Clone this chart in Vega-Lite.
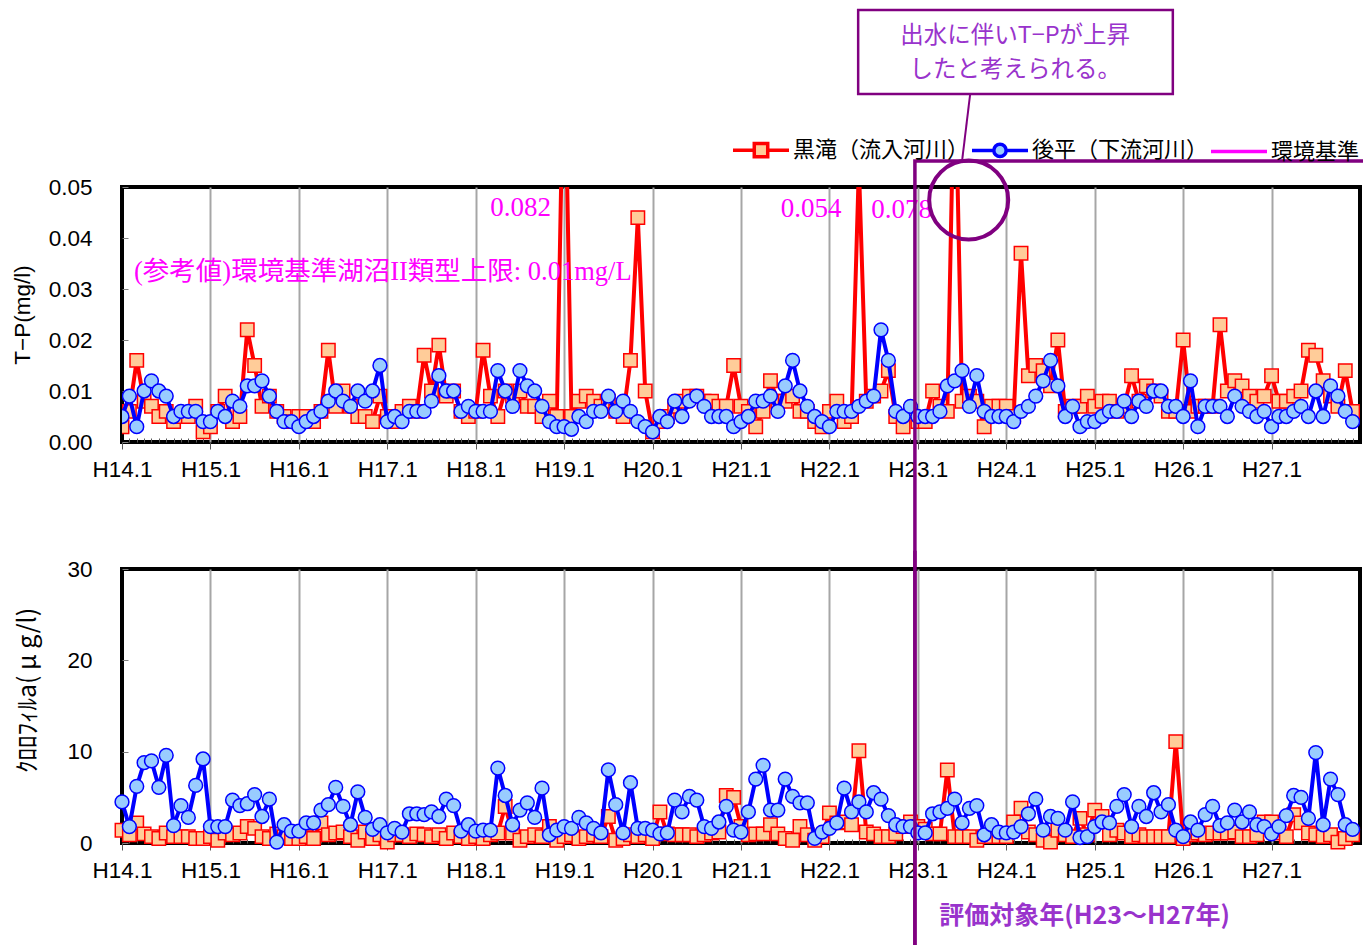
{
  "$schema": "https://vega.github.io/schema/vega-lite/v6.json",
  "background": "white",
  "padding": {"left": 9, "top": 6, "right": 0, "bottom": 0},
  "bounds": "flush",
  "spacing": 127,
  "config": {
    "view": {"stroke": "black", "strokeWidth": 4},
    "axis": {"labelFont": "Liberation Sans", "labelFontSize": 22.5, "labelColor": "black", "titleFont": "Liberation Sans", "titleFontSize": 22.5, "titleFontWeight": "normal", "titleColor": "black", "domain": false}
  },
  "datasets": {
    "obs": [
      {"t":0,"kTP":0.003,"gTP":0.005,"kChl":1.4,"gChl":4.5},
      {"t":1,"kTP":0.006,"gTP":0.009,"kChl":0.9,"gChl":1.8},
      {"t":2,"kTP":0.016,"gTP":0.003,"kChl":2.2,"gChl":6.2},
      {"t":3,"kTP":0.008,"gTP":0.010,"kChl":1.0,"gChl":8.8},
      {"t":4,"kTP":0.007,"gTP":0.012,"kChl":0.7,"gChl":9.0},
      {"t":5,"kTP":0.005,"gTP":0.010,"kChl":0.5,"gChl":6.1},
      {"t":6,"kTP":0.006,"gTP":0.009,"kChl":1.1,"gChl":9.6},
      {"t":7,"kTP":0.004,"gTP":0.005,"kChl":0.7,"gChl":1.9},
      {"t":8,"kTP":0.005,"gTP":0.006,"kChl":0.7,"gChl":4.1},
      {"t":9,"kTP":0.005,"gTP":0.006,"kChl":0.7,"gChl":2.8},
      {"t":10,"kTP":0.007,"gTP":0.006,"kChl":0.5,"gChl":6.3},
      {"t":11,"kTP":0.002,"gTP":0.004,"kChl":0.5,"gChl":9.2},
      {"t":12,"kTP":0.003,"gTP":0.004,"kChl":0.7,"gChl":1.8},
      {"t":13,"kTP":0.006,"gTP":0.006,"kChl":0.3,"gChl":1.8},
      {"t":14,"kTP":0.009,"gTP":0.005,"kChl":1.1,"gChl":1.8},
      {"t":15,"kTP":0.004,"gTP":0.008,"kChl":0.9,"gChl":4.7},
      {"t":16,"kTP":0.005,"gTP":0.007,"kChl":1.1,"gChl":4.1},
      {"t":17,"kTP":0.022,"gTP":0.011,"kChl":1.8,"gChl":4.3},
      {"t":18,"kTP":0.015,"gTP":0.011,"kChl":1.6,"gChl":5.3},
      {"t":19,"kTP":0.007,"gTP":0.012,"kChl":0.7,"gChl":2.9},
      {"t":20,"kTP":0.009,"gTP":0.009,"kChl":0.5,"gChl":4.8},
      {"t":21,"kTP":0.006,"gTP":0.006,"kChl":1.0,"gChl":0.1},
      {"t":22,"kTP":0.005,"gTP":0.004,"kChl":0.7,"gChl":2.0},
      {"t":23,"kTP":0.004,"gTP":0.004,"kChl":0.5,"gChl":1.3},
      {"t":24,"kTP":0.005,"gTP":0.003,"kChl":0.5,"gChl":1.3},
      {"t":25,"kTP":0.005,"gTP":0.004,"kChl":0.7,"gChl":2.2},
      {"t":26,"kTP":0.004,"gTP":0.005,"kChl":0.5,"gChl":2.2},
      {"t":27,"kTP":0.006,"gTP":0.006,"kChl":2.2,"gChl":3.6},
      {"t":28,"kTP":0.018,"gTP":0.008,"kChl":0.9,"gChl":4.2},
      {"t":29,"kTP":0.007,"gTP":0.010,"kChl":1.1,"gChl":6.1},
      {"t":30,"kTP":0.010,"gTP":0.008,"kChl":1.2,"gChl":4.0},
      {"t":31,"kTP":0.007,"gTP":0.007,"kChl":0.7,"gChl":2.0},
      {"t":32,"kTP":0.005,"gTP":0.010,"kChl":0.3,"gChl":5.6},
      {"t":33,"kTP":0.005,"gTP":0.008,"kChl":1.2,"gChl":2.8},
      {"t":34,"kTP":0.004,"gTP":0.010,"kChl":0.5,"gChl":1.5},
      {"t":35,"kTP":0.009,"gTP":0.015,"kChl":0.9,"gChl":2.0},
      {"t":36,"kTP":0.005,"gTP":0.004,"kChl":0.1,"gChl":1.1},
      {"t":37,"kTP":0.004,"gTP":0.005,"kChl":0.9,"gChl":1.6},
      {"t":38,"kTP":0.006,"gTP":0.004,"kChl":0.9,"gChl":1.2},
      {"t":39,"kTP":0.007,"gTP":0.006,"kChl":0.7,"gChl":3.2},
      {"t":40,"kTP":0.006,"gTP":0.006,"kChl":1.0,"gChl":3.2},
      {"t":41,"kTP":0.017,"gTP":0.006,"kChl":0.9,"gChl":3.1},
      {"t":42,"kTP":0.010,"gTP":0.008,"kChl":0.7,"gChl":3.4},
      {"t":43,"kTP":0.019,"gTP":0.013,"kChl":0.9,"gChl":2.9},
      {"t":44,"kTP":0.009,"gTP":0.010,"kChl":0.5,"gChl":4.8},
      {"t":45,"kTP":0.010,"gTP":0.010,"kChl":1.1,"gChl":4.1},
      {"t":46,"kTP":0.006,"gTP":0.006,"kChl":0.7,"gChl":1.3},
      {"t":47,"kTP":0.005,"gTP":0.007,"kChl":0.5,"gChl":2.0},
      {"t":48,"kTP":0.006,"gTP":0.006,"kChl":0.7,"gChl":1.3},
      {"t":49,"kTP":0.018,"gTP":0.006,"kChl":0.5,"gChl":1.4},
      {"t":50,"kTP":0.009,"gTP":0.006,"kChl":0.9,"gChl":1.4},
      {"t":51,"kTP":0.005,"gTP":0.014,"kChl":1.1,"gChl":8.2},
      {"t":52,"kTP":0.010,"gTP":0.010,"kChl":4.0,"gChl":5.2},
      {"t":53,"kTP":0.009,"gTP":0.007,"kChl":1.1,"gChl":2.0},
      {"t":54,"kTP":0.010,"gTP":0.014,"kChl":0.3,"gChl":3.6},
      {"t":55,"kTP":0.007,"gTP":0.011,"kChl":0.7,"gChl":4.4},
      {"t":56,"kTP":0.007,"gTP":0.010,"kChl":0.9,"gChl":2.8},
      {"t":57,"kTP":0.005,"gTP":0.007,"kChl":0.7,"gChl":6.0},
      {"t":58,"kTP":0.008,"gTP":0.004,"kChl":1.8,"gChl":0.9},
      {"t":59,"kTP":0.005,"gTP":0.003,"kChl":0.3,"gChl":1.4},
      {"t":60,"kTP":0.082,"gTP":0.003,"kChl":0.7,"gChl":1.8},
      {"t":61,"kTP":0.005,"gTP":0.0025,"kChl":0.9,"gChl":1.6},
      {"t":62,"kTP":0.008,"gTP":0.005,"kChl":0.5,"gChl":2.8},
      {"t":63,"kTP":0.009,"gTP":0.004,"kChl":0.7,"gChl":2.2},
      {"t":64,"kTP":0.008,"gTP":0.006,"kChl":0.9,"gChl":1.6},
      {"t":65,"kTP":0.007,"gTP":0.006,"kChl":0.7,"gChl":1.1},
      {"t":66,"kTP":0.008,"gTP":0.009,"kChl":2.9,"gChl":8.0},
      {"t":67,"kTP":0.006,"gTP":0.006,"kChl":0.3,"gChl":4.2},
      {"t":68,"kTP":0.005,"gTP":0.008,"kChl":0.5,"gChl":1.1},
      {"t":69,"kTP":0.016,"gTP":0.006,"kChl":0.9,"gChl":6.6},
      {"t":70,"kTP":0.044,"gTP":0.004,"kChl":0.7,"gChl":1.6},
      {"t":71,"kTP":0.010,"gTP":0.003,"kChl":0.9,"gChl":1.6},
      {"t":72,"kTP":0.002,"gTP":0.002,"kChl":0.5,"gChl":1.4},
      {"t":73,"kTP":0.004,"gTP":0.005,"kChl":3.4,"gChl":1.0},
      {"t":74,"kTP":0.005,"gTP":0.004,"kChl":1.0,"gChl":1.1},
      {"t":75,"kTP":0.007,"gTP":0.008,"kChl":0.9,"gChl":4.7},
      {"t":76,"kTP":0.008,"gTP":0.005,"kChl":0.9,"gChl":3.4},
      {"t":77,"kTP":0.009,"gTP":0.008,"kChl":0.9,"gChl":5.1},
      {"t":78,"kTP":0.009,"gTP":0.009,"kChl":0.7,"gChl":4.7},
      {"t":79,"kTP":0.008,"gTP":0.007,"kChl":0.9,"gChl":1.8},
      {"t":80,"kTP":0.008,"gTP":0.005,"kChl":1.1,"gChl":1.6},
      {"t":81,"kTP":0.007,"gTP":0.005,"kChl":1.2,"gChl":2.3},
      {"t":82,"kTP":0.007,"gTP":0.005,"kChl":5.2,"gChl":4.0},
      {"t":83,"kTP":0.015,"gTP":0.003,"kChl":5.0,"gChl":1.4},
      {"t":84,"kTP":0.007,"gTP":0.004,"kChl":1.8,"gChl":1.2},
      {"t":85,"kTP":0.006,"gTP":0.005,"kChl":0.9,"gChl":3.4},
      {"t":86,"kTP":0.003,"gTP":0.008,"kChl":1.0,"gChl":7.0},
      {"t":87,"kTP":0.006,"gTP":0.008,"kChl":1.0,"gChl":8.5},
      {"t":88,"kTP":0.012,"gTP":0.009,"kChl":2.0,"gChl":3.6},
      {"t":89,"kTP":0.008,"gTP":0.006,"kChl":1.0,"gChl":3.6},
      {"t":90,"kTP":0.008,"gTP":0.011,"kChl":0.5,"gChl":7.0},
      {"t":91,"kTP":0.009,"gTP":0.016,"kChl":0.3,"gChl":5.1},
      {"t":92,"kTP":0.006,"gTP":0.010,"kChl":1.8,"gChl":4.4},
      {"t":93,"kTP":0.006,"gTP":0.007,"kChl":0.9,"gChl":4.4},
      {"t":94,"kTP":0.004,"gTP":0.005,"kChl":0.3,"gChl":0.5},
      {"t":95,"kTP":0.003,"gTP":0.004,"kChl":0.7,"gChl":1.2},
      {"t":96,"kTP":0.006,"gTP":0.003,"kChl":3.3,"gChl":1.6},
      {"t":97,"kTP":0.008,"gTP":0.006,"kChl":2.2,"gChl":2.2},
      {"t":98,"kTP":0.004,"gTP":0.006,"kChl":2.3,"gChl":6.0},
      {"t":99,"kTP":0.005,"gTP":0.006,"kChl":2.0,"gChl":3.4},
      {"t":100,"kTP":0.054,"gTP":0.007,"kChl":10.1,"gChl":4.5},
      {"t":101,"kTP":0.008,"gTP":0.008,"kChl":1.2,"gChl":3.4},
      {"t":102,"kTP":0.009,"gTP":0.009,"kChl":1.0,"gChl":5.5},
      {"t":103,"kTP":0.010,"gTP":0.022,"kChl":0.7,"gChl":4.8},
      {"t":104,"kTP":0.014,"gTP":0.016,"kChl":0.7,"gChl":3.0},
      {"t":105,"kTP":0.005,"gTP":0.006,"kChl":1.0,"gChl":2.0},
      {"t":106,"kTP":0.003,"gTP":0.005,"kChl":1.8,"gChl":1.8},
      {"t":107,"kTP":0.006,"gTP":0.007,"kChl":2.3,"gChl":1.8},
      {"t":108,"kTP":0.004,"gTP":0.005,"kChl":1.8,"gChl":1.1},
      {"t":109,"kTP":0.004,"gTP":0.005,"kChl":1.5,"gChl":1.1},
      {"t":110,"kTP":0.010,"gTP":0.005,"kChl":1.0,"gChl":3.2},
      {"t":111,"kTP":0.007,"gTP":0.006,"kChl":1.0,"gChl":3.4},
      {"t":112,"kTP":0.006,"gTP":0.011,"kChl":8.0,"gChl":3.8},
      {"t":113,"kTP":0.078,"gTP":0.012,"kChl":0.7,"gChl":4.8},
      {"t":114,"kTP":0.008,"gTP":0.014,"kChl":0.7,"gChl":2.2},
      {"t":115,"kTP":0.009,"gTP":0.007,"kChl":0.7,"gChl":3.8},
      {"t":116,"kTP":0.008,"gTP":0.013,"kChl":0.3,"gChl":4.1},
      {"t":117,"kTP":0.003,"gTP":0.006,"kChl":0.7,"gChl":0.9},
      {"t":118,"kTP":0.007,"gTP":0.005,"kChl":0.7,"gChl":2.0},
      {"t":119,"kTP":0.007,"gTP":0.005,"kChl":0.7,"gChl":1.2},
      {"t":120,"kTP":0.007,"gTP":0.005,"kChl":0.7,"gChl":1.1},
      {"t":121,"kTP":0.005,"gTP":0.004,"kChl":2.3,"gChl":1.2},
      {"t":122,"kTP":0.037,"gTP":0.006,"kChl":3.8,"gChl":1.8},
      {"t":123,"kTP":0.013,"gTP":0.007,"kChl":1.2,"gChl":3.2},
      {"t":124,"kTP":0.015,"gTP":0.009,"kChl":0.9,"gChl":4.8},
      {"t":125,"kTP":0.014,"gTP":0.012,"kChl":0.3,"gChl":1.4},
      {"t":126,"kTP":0.011,"gTP":0.016,"kChl":0.1,"gChl":2.9},
      {"t":127,"kTP":0.020,"gTP":0.011,"kChl":1.4,"gChl":2.7},
      {"t":128,"kTP":0.006,"gTP":0.005,"kChl":0.9,"gChl":1.4},
      {"t":129,"kTP":0.007,"gTP":0.007,"kChl":0.7,"gChl":4.5},
      {"t":130,"kTP":0.007,"gTP":0.003,"kChl":2.7,"gChl":0.6},
      {"t":131,"kTP":0.009,"gTP":0.004,"kChl":0.9,"gChl":0.7},
      {"t":132,"kTP":0.007,"gTP":0.004,"kChl":3.6,"gChl":1.8},
      {"t":133,"kTP":0.008,"gTP":0.005,"kChl":2.9,"gChl":2.3},
      {"t":134,"kTP":0.008,"gTP":0.006,"kChl":0.9,"gChl":2.2},
      {"t":135,"kTP":0.006,"gTP":0.006,"kChl":1.4,"gChl":4.0},
      {"t":136,"kTP":0.007,"gTP":0.008,"kChl":1.1,"gChl":5.3},
      {"t":137,"kTP":0.013,"gTP":0.005,"kChl":0.7,"gChl":1.8},
      {"t":138,"kTP":0.008,"gTP":0.008,"kChl":0.9,"gChl":4.0},
      {"t":139,"kTP":0.011,"gTP":0.007,"kChl":0.7,"gChl":2.9},
      {"t":140,"kTP":0.010,"gTP":0.010,"kChl":0.7,"gChl":5.5},
      {"t":141,"kTP":0.009,"gTP":0.010,"kChl":0.7,"gChl":3.4},
      {"t":142,"kTP":0.006,"gTP":0.007,"kChl":0.7,"gChl":4.2},
      {"t":143,"kTP":0.006,"gTP":0.007,"kChl":11.1,"gChl":1.4},
      {"t":144,"kTP":0.020,"gTP":0.005,"kChl":0.5,"gChl":0.7},
      {"t":145,"kTP":0.006,"gTP":0.012,"kChl":0.9,"gChl":2.3},
      {"t":146,"kTP":0.007,"gTP":0.003,"kChl":1.1,"gChl":1.4},
      {"t":147,"kTP":0.007,"gTP":0.007,"kChl":0.9,"gChl":3.1},
      {"t":148,"kTP":0.007,"gTP":0.007,"kChl":1.1,"gChl":4.0},
      {"t":149,"kTP":0.023,"gTP":0.007,"kChl":1.1,"gChl":1.9},
      {"t":150,"kTP":0.010,"gTP":0.005,"kChl":1.1,"gChl":2.2},
      {"t":151,"kTP":0.012,"gTP":0.009,"kChl":1.2,"gChl":3.6},
      {"t":152,"kTP":0.011,"gTP":0.007,"kChl":0.7,"gChl":2.3},
      {"t":153,"kTP":0.009,"gTP":0.006,"kChl":0.7,"gChl":3.4},
      {"t":154,"kTP":0.008,"gTP":0.005,"kChl":0.9,"gChl":2.0},
      {"t":155,"kTP":0.009,"gTP":0.006,"kChl":2.3,"gChl":1.8},
      {"t":156,"kTP":0.013,"gTP":0.003,"kChl":2.3,"gChl":1.0},
      {"t":157,"kTP":0.008,"gTP":0.005,"kChl":1.1,"gChl":1.8},
      {"t":158,"kTP":0.008,"gTP":0.005,"kChl":0.7,"gChl":3.0},
      {"t":159,"kTP":0.009,"gTP":0.006,"kChl":3.1,"gChl":5.2},
      {"t":160,"kTP":0.010,"gTP":0.007,"kChl":2.2,"gChl":5.0},
      {"t":161,"kTP":0.018,"gTP":0.005,"kChl":1.1,"gChl":2.7},
      {"t":162,"kTP":0.017,"gTP":0.010,"kChl":0.9,"gChl":9.9},
      {"t":163,"kTP":0.012,"gTP":0.005,"kChl":0.7,"gChl":2.0},
      {"t":164,"kTP":0.009,"gTP":0.011,"kChl":0.9,"gChl":7.0},
      {"t":165,"kTP":0.007,"gTP":0.009,"kChl":0.1,"gChl":5.3},
      {"t":166,"kTP":0.014,"gTP":0.006,"kChl":0.5,"gChl":2.0},
      {"t":167,"kTP":0.006,"gTP":0.004,"kChl":0.9,"gChl":1.5}
    ]
  },
  "vconcat": [
    {
      "width": 1238,
      "height": 255,
      "layer": [
        {
          "data": {"values": [{"s": "黒滝（流入河川）"}, {"s": "後平（下流河川）"}, {"s": "環境基準"}]},
          "transform": [{"filter": "false"}],
          "mark": {"type": "point", "filled": true, "opacity": 1, "strokeWidth": 3.5},
          "encoding": {
            "shape": {"field": "s", "type": "nominal",
              "scale": {"domain": ["黒滝（流入河川）", "後平（下流河川）", "環境基準"], "range": ["M-1,0H-0.24M0.24,0H1M-0.24,-0.24H0.24V0.24H-0.24Z", "M-1,0H-0.22M0.22,0H1M-0.22,0A0.22,0.22 0 1,0 0.22,0A0.22,0.22 0 1,0 -0.22,0Z", "M-1,0H1"]},
              "legend": {"orient": "none", "legendX": 609, "legendY": -67, "direction": "horizontal", "title": null, "symbolSize": 3136, "symbolStrokeWidth": 3.5, "labelFont": "Noto Sans CJK JP", "labelFontSize": 22, "labelColor": "black", "labelOffset": 2, "columnPadding": -6, "padding": 0, "labelLimit": 0, "symbolOpacity": 1}},
            "fill": {"field": "s", "type": "nominal",
              "scale": {"domain": ["黒滝（流入河川）", "後平（下流河川）", "環境基準"], "range": ["#FFCC99", "#99CCFF", "#FF00FF"]},
              "legend": {"orient": "none", "legendX": 609, "legendY": -67, "direction": "horizontal", "title": null, "symbolSize": 3136, "symbolStrokeWidth": 3.5, "labelFont": "Noto Sans CJK JP", "labelFontSize": 22, "labelColor": "black", "labelOffset": 2, "columnPadding": -6, "padding": 0, "labelLimit": 0, "symbolOpacity": 1}},
            "stroke": {"field": "s", "type": "nominal",
              "scale": {"domain": ["黒滝（流入河川）", "後平（下流河川）", "環境基準"], "range": ["#FF0000", "#0000FF", "#FF00FF"]},
              "legend": {"orient": "none", "legendX": 609, "legendY": -67, "direction": "horizontal", "title": null, "symbolSize": 3136, "symbolStrokeWidth": 3.5, "labelFont": "Noto Sans CJK JP", "labelFontSize": 22, "labelColor": "black", "labelOffset": 2, "columnPadding": -6, "padding": 0, "labelLimit": 0, "symbolOpacity": 1}}
          }
        },
        {
          "data": {"name": "obs"},
          "mark": {"type": "line", "color": "#FF0000", "strokeWidth": 4, "clip": true},
          "encoding": {
            "x": {"field": "t", "type": "quantitative", "title": null,
              "scale": {"domain": [0, 168], "nice": false, "zero": false},
              "axis": {
                "values": [0,1,2,3,4,5,6,7,8,9,10,11,12,13,14,15,16,17,18,19,20,21,22,23,24,25,26,27,28,29,30,31,32,33,34,35,36,37,38,39,40,41,42,43,44,45,46,47,48,49,50,51,52,53,54,55,56,57,58,59,60,61,62,63,64,65,66,67,68,69,70,71,72,73,74,75,76,77,78,79,80,81,82,83,84,85,86,87,88,89,90,91,92,93,94,95,96,97,98,99,100,101,102,103,104,105,106,107,108,109,110,111,112,113,114,115,116,117,118,119,120,121,122,123,124,125,126,127,128,129,130,131,132,133,134,135,136,137,138,139,140,141,142,143,144,145,146,147,148,149,150,151,152,153,154,155,156,157,158,159,160,161,162,163,164,165,166,167],
                "tickCount": 200,
                "labelExpr": "datum.value % 12 === 0 ? 'H' + (14 + datum.value / 12) + '.1' : ''",
                "labelOverlap": false, "labelFlush": false, "labelBound": false, "labelPadding": 9,
                "grid": true, "gridColor": "#a6a6a6", "gridWidth": 2,
                "gridOpacity": {"condition": {"test": "datum.value % 12 === 0 && datum.value > 0", "value": 1}, "value": 0},
                "ticks": true, "tickColor": "#595959", "tickWidth": 1,
                "tickSize": {"condition": {"test": "datum.value % 12 === 0", "value": 7}, "value": -4},
                "domain": false, "title": null
              }
            },
            "y": {"field": "kTP", "type": "quantitative", "title": "T−P(mg/l)",
              "scale": {"domain": [0, 0.05], "nice": false, "zero": false},
              "axis": {"values": [0, 0.01, 0.02, 0.03, 0.04, 0.05], "format": ".2f", "labelFlush": false, "labelPadding": 36, "ticks": true, "tickSize": -6, "tickColor": "#808080", "grid": false, "domain": false, "titlePadding": 14}
            }
          }
        },
        {
          "data": {"name": "obs"},
          "mark": {"type": "point", "shape": "square", "filled": true, "fill": "#FFCC99", "stroke": "#FF0000", "strokeWidth": 1.5, "size": 180, "opacity": 1, "clip": true},
          "encoding": {
            "x": {"field": "t", "type": "quantitative", "title": null, "scale": {"domain": [0, 168], "nice": false, "zero": false}},
            "y": {"field": "kTP", "type": "quantitative", "title": "T−P(mg/l)", "scale": {"domain": [0, 0.05], "nice": false, "zero": false}}
          }
        },
        {
          "mark": {"type": "rule", "color": "#FF00FF", "strokeWidth": 5},
          "encoding": {
            "y": {"datum": 0.01, "type": "quantitative", "title": "T−P(mg/l)", "scale": {"domain": [0, 0.05], "nice": false, "zero": false}}
          }
        },
        {
          "data": {"name": "obs"},
          "mark": {"type": "line", "color": "#0000FF", "strokeWidth": 4, "clip": true},
          "encoding": {
            "x": {"field": "t", "type": "quantitative", "title": null, "scale": {"domain": [0, 168], "nice": false, "zero": false}},
            "y": {"field": "gTP", "type": "quantitative", "title": "T−P(mg/l)", "scale": {"domain": [0, 0.05], "nice": false, "zero": false}}
          }
        },
        {
          "data": {"name": "obs"},
          "mark": {"type": "point", "shape": "circle", "filled": true, "fill": "#99CCFF", "stroke": "#0000FF", "strokeWidth": 1.5, "size": 190, "opacity": 1, "clip": true},
          "encoding": {
            "x": {"field": "t", "type": "quantitative", "title": null, "scale": {"domain": [0, 168], "nice": false, "zero": false}},
            "y": {"field": "gTP", "type": "quantitative", "title": "T−P(mg/l)", "scale": {"domain": [0, 0.05], "nice": false, "zero": false}}
          }
        },
        {
          "data": {"values": [{"t": 54.1, "v": 0.0459, "label": "0.082"}, {"t": 93.5, "v": 0.0457, "label": "0.054"}, {"t": 105.8, "v": 0.0455, "label": "0.078"}]},
          "mark": {"type": "text", "font": "Liberation Serif", "fontSize": 27, "color": "#FF00FF", "align": "center", "baseline": "middle"},
          "encoding": {
            "x": {"field": "t", "type": "quantitative", "title": null, "scale": {"domain": [0, 168], "nice": false, "zero": false}},
            "y": {"field": "v", "type": "quantitative", "title": "T−P(mg/l)", "scale": {"domain": [0, 0.05], "nice": false, "zero": false}},
            "text": {"field": "label"}
          }
        },
        {
          "data": {"values": [{"t": 1.63, "v": 0.0333, "label": "(参考値)環境基準湖沼II類型上限: 0.01mg/L"}]},
          "mark": {"type": "text", "font": "Liberation Serif, Noto Sans CJK JP", "fontSize": 26.5, "color": "#FF00FF", "align": "left", "baseline": "middle"},
          "encoding": {
            "x": {"field": "t", "type": "quantitative", "title": null, "scale": {"domain": [0, 168], "nice": false, "zero": false}},
            "y": {"field": "v", "type": "quantitative", "title": "T−P(mg/l)", "scale": {"domain": [0, 0.05], "nice": false, "zero": false}},
            "text": {"field": "label"}
          }
        },
        {
          "data": {"values": [{"t": 99.9, "t2": 142.6, "v": 0.0847, "v2": 0.06824}]},
          "mark": {"type": "rect", "fill": "white", "stroke": "#800080", "strokeWidth": 2.5},
          "encoding": {
            "x": {"field": "t", "type": "quantitative", "title": null, "scale": {"domain": [0, 168], "nice": false, "zero": false}},
            "x2": {"field": "t2"},
            "y": {"field": "v", "type": "quantitative", "title": "T−P(mg/l)", "scale": {"domain": [0, 0.05], "nice": false, "zero": false}},
            "y2": {"field": "v2"}
          }
        },
        {
          "data": {"values": [{"t": 121.2, "v": 0.07961, "label": "出水に伴いT−Pが上昇"}, {"t": 121.2, "v": 0.07294, "label": "したと考えられる。"}]},
          "mark": {"type": "text", "font": "Noto Sans CJK JP", "fontSize": 23.5, "color": "#9933CC", "align": "center", "baseline": "middle"},
          "encoding": {
            "x": {"field": "t", "type": "quantitative", "title": null, "scale": {"domain": [0, 168], "nice": false, "zero": false}},
            "y": {"field": "v", "type": "quantitative", "title": "T−P(mg/l)", "scale": {"domain": [0, 0.05], "nice": false, "zero": false}},
            "text": {"field": "label"}
          }
        },
        {
          "data": {"values": [{"t": 115.1, "t2": 114.0, "v": 0.06824, "v2": 0.0551}]},
          "mark": {"type": "rule", "color": "#800080", "strokeWidth": 2},
          "encoding": {
            "x": {"field": "t", "type": "quantitative", "title": null, "scale": {"domain": [0, 168], "nice": false, "zero": false}},
            "x2": {"field": "t2"},
            "y": {"field": "v", "type": "quantitative", "title": "T−P(mg/l)", "scale": {"domain": [0, 0.05], "nice": false, "zero": false}},
            "y2": {"field": "v2"}
          }
        },
        {
          "data": {"values": [{"t": 114.9, "v": 0.04745}]},
          "mark": {"type": "point", "shape": "circle", "filled": false, "stroke": "#800080", "strokeWidth": 4, "size": 6241, "opacity": 1},
          "encoding": {
            "x": {"field": "t", "type": "quantitative", "title": null, "scale": {"domain": [0, 168], "nice": false, "zero": false}},
            "y": {"field": "v", "type": "quantitative", "title": "T−P(mg/l)", "scale": {"domain": [0, 0.05], "nice": false, "zero": false}}
          }
        },
        {
          "data": {"values": [{"t": 107.6, "t2": 200, "v": 0.0551, "v2": -0.13}]},
          "mark": {"type": "rect", "fillOpacity": 0, "stroke": "#800080", "strokeWidth": 3.5},
          "encoding": {
            "x": {"field": "t", "type": "quantitative", "title": null, "scale": {"domain": [0, 168], "nice": false, "zero": false}},
            "x2": {"field": "t2"},
            "y": {"field": "v", "type": "quantitative", "title": "T−P(mg/l)", "scale": {"domain": [0, 0.05], "nice": false, "zero": false}},
            "y2": {"field": "v2"}
          }
        }
      ]
    },
    {
      "width": 1238,
      "height": 274,
      "layer": [
        {
          "data": {"name": "obs"},
          "mark": {"type": "line", "color": "#FF0000", "strokeWidth": 4},
          "encoding": {
            "x": {"field": "t", "type": "quantitative", "title": null,
              "scale": {"domain": [0, 168], "nice": false, "zero": false},
              "axis": {
                "values": [0,1,2,3,4,5,6,7,8,9,10,11,12,13,14,15,16,17,18,19,20,21,22,23,24,25,26,27,28,29,30,31,32,33,34,35,36,37,38,39,40,41,42,43,44,45,46,47,48,49,50,51,52,53,54,55,56,57,58,59,60,61,62,63,64,65,66,67,68,69,70,71,72,73,74,75,76,77,78,79,80,81,82,83,84,85,86,87,88,89,90,91,92,93,94,95,96,97,98,99,100,101,102,103,104,105,106,107,108,109,110,111,112,113,114,115,116,117,118,119,120,121,122,123,124,125,126,127,128,129,130,131,132,133,134,135,136,137,138,139,140,141,142,143,144,145,146,147,148,149,150,151,152,153,154,155,156,157,158,159,160,161,162,163,164,165,166,167],
                "tickCount": 200,
                "labelExpr": "datum.value % 12 === 0 ? 'H' + (14 + datum.value / 12) + '.1' : ''",
                "labelOverlap": false, "labelFlush": false, "labelBound": false, "labelPadding": 9,
                "grid": true, "gridColor": "#a6a6a6", "gridWidth": 2,
                "gridOpacity": {"condition": {"test": "datum.value % 12 === 0 && datum.value > 0", "value": 1}, "value": 0},
                "ticks": true, "tickColor": "#595959", "tickWidth": 1,
                "tickSize": {"condition": {"test": "datum.value % 12 === 0", "value": 7}, "value": -4},
                "domain": false, "title": null
              }
            },
            "y": {"field": "kChl", "type": "quantitative", "title": "ｸﾛﾛﾌｨﾙa( μ g/l)",
              "scale": {"domain": [0, 30], "nice": false, "zero": false},
              "axis": {"values": [0, 10, 20, 30], "format": "d", "labelFlush": false, "labelPadding": 36, "ticks": true, "tickSize": -6, "tickColor": "#808080", "grid": false, "domain": false, "titlePadding": 26, "titleFont": "Noto Sans CJK JP", "titleFontSize": 25, "titleY": 121}
            }
          }
        },
        {
          "data": {"name": "obs"},
          "mark": {"type": "point", "shape": "square", "filled": true, "fill": "#FFCC99", "stroke": "#FF0000", "strokeWidth": 1.5, "size": 180, "opacity": 1},
          "encoding": {
            "x": {"field": "t", "type": "quantitative", "title": null, "scale": {"domain": [0, 168], "nice": false, "zero": false}},
            "y": {"field": "kChl", "type": "quantitative", "title": "ｸﾛﾛﾌｨﾙa( μ g/l)", "scale": {"domain": [0, 30], "nice": false, "zero": false}}
          }
        },
        {
          "data": {"name": "obs"},
          "mark": {"type": "line", "color": "#0000FF", "strokeWidth": 4},
          "encoding": {
            "x": {"field": "t", "type": "quantitative", "title": null, "scale": {"domain": [0, 168], "nice": false, "zero": false}},
            "y": {"field": "gChl", "type": "quantitative", "title": "ｸﾛﾛﾌｨﾙa( μ g/l)", "scale": {"domain": [0, 30], "nice": false, "zero": false}}
          }
        },
        {
          "data": {"name": "obs"},
          "mark": {"type": "point", "shape": "circle", "filled": true, "fill": "#99CCFF", "stroke": "#0000FF", "strokeWidth": 1.5, "size": 190, "opacity": 1},
          "encoding": {
            "x": {"field": "t", "type": "quantitative", "title": null, "scale": {"domain": [0, 168], "nice": false, "zero": false}},
            "y": {"field": "gChl", "type": "quantitative", "title": "ｸﾛﾛﾌｨﾙa( μ g/l)", "scale": {"domain": [0, 30], "nice": false, "zero": false}}
          }
        },
        {
          "data": {"values": [{"t": 107.6, "v": 32, "v2": -12}]},
          "mark": {"type": "rule", "color": "#800080", "strokeWidth": 3.5},
          "encoding": {
            "x": {"field": "t", "type": "quantitative", "title": null, "scale": {"domain": [0, 168], "nice": false, "zero": false}},
            "y": {"field": "v", "type": "quantitative", "title": "ｸﾛﾛﾌｨﾙa( μ g/l)", "scale": {"domain": [0, 30], "nice": false, "zero": false}},
            "y2": {"field": "v2"}
          }
        },
        {
          "data": {"values": [{"t": 110.9, "v": -8.0, "label": "評価対象年(H23〜H27年)"}]},
          "mark": {"type": "text", "font": "Noto Sans CJK JP", "fontWeight": "bold", "fontSize": 25, "color": "#9933CC", "align": "left", "baseline": "middle"},
          "encoding": {
            "x": {"field": "t", "type": "quantitative", "title": null, "scale": {"domain": [0, 168], "nice": false, "zero": false}},
            "y": {"field": "v", "type": "quantitative", "title": "ｸﾛﾛﾌｨﾙa( μ g/l)", "scale": {"domain": [0, 30], "nice": false, "zero": false}},
            "text": {"field": "label"}
          }
        }
      ]
    }
  ]
}
